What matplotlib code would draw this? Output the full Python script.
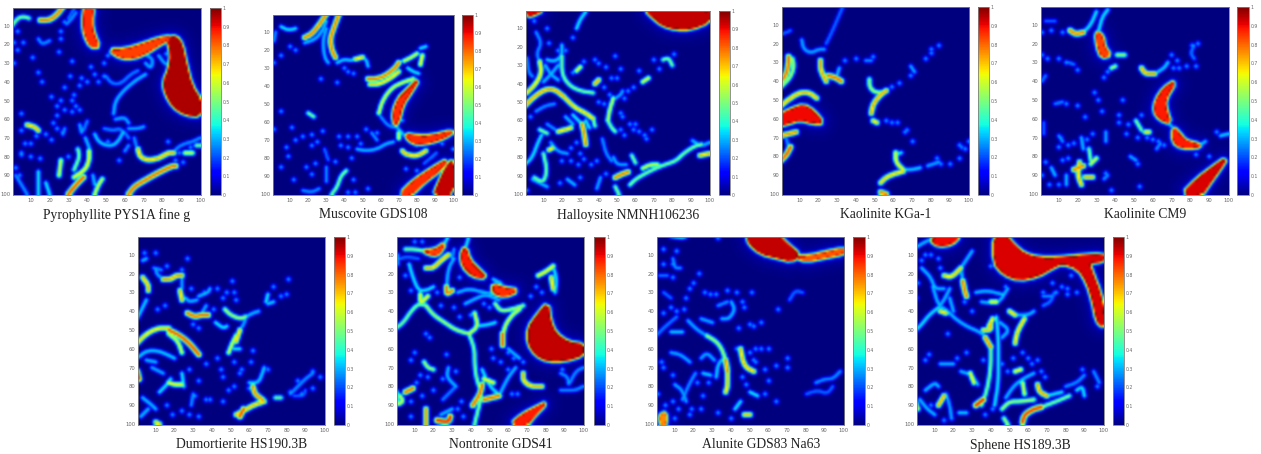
import numpy as np
import matplotlib
matplotlib.use("Agg")
import matplotlib.pyplot as plt
from matplotlib.path import Path

W, H = 1261, 454
TITLES = ["Pyrophyllite PYS1A fine g", "Muscovite GDS108", "Halloysite NMNH106236", "Kaolinite KGa-1", "Kaolinite CM9",
          "Dumortierite HS190.3B", "Nontronite GDS41", "Alunite GDS83 Na63", "Sphene HS189.3B"]

# Each sample: saturated regions, ridges (peak value, points in cell coordinates), isolated spots.
PYRO_FILLS = [(.92, [(83,17),(87,16),(90,20),(92,30),(95,42),(100,50),(100,58),(92,57),(86,53),(82,46),(81,40),(84,33),(85,25)]),
              (.8, [(52,23),(60,23),(70,20),(78,17),(85,16),(78,20),(72,24),(65,27),(58,27)]),
              (.82, [(39,0),(43,0),(42,8),(43,14),(46,21),(42,21),(39,15),(38,8)])]
PYRO_LINES = [(.8,[(15,7),(20,7),(24,4),(27,0)]),(.5,[(0,10),(3,6),(6,5),(9,6)]),(.35,[(29,9),(32,6),(34,3)]),
 (.35,[(14,17),(16,20),(20,18)]),(.4,[(54,57),(55,50),(60,44),(66,39),(71,36)]),(.33,[(50,37),(53,41),(58,41),(63,36),(67,34)]),
 (.38,[(71,30),(74,33),(75,28),(72,26)]),(.38,[(78,26),(81,30),(83,31)]),(.72,[(67,76),(68,80),(72,82),(78,81),(83,78),(86,78)]),
 (.82,[(62,100),(65,96),(70,93),(77,89),(85,85),(87,85)]),(.85,[(30,100),(34,95),(38,91)]),(.65,[(33,91),(39,87),(41,82),(41,77)]),
 (.4,[(39,70),(41,75)]),(.5,[(33,87),(36,80),(35,76)]),(.6,[(25,90),(26,82)]),(.45,[(14,88),(14,100)]),(.45,[(18,94),(20,100)]),
 (.6,[(44,100),(46,95),(48,92)]),(.4,[(43,90),(44,95)]),(.72,[(8,63),(12,64),(14,66)]),(.42,[(44,68),(46,72),(50,74),(54,74),(57,71),(59,67)]),
 (.33,[(49,65),(54,66),(57,65),(60,67),(62,70)]),(.38,[(55,60),(60,59),(62,62)]),(.38,[(62,65),(67,65),(70,64)]),
 (.35,[(85,79),(88,75),(92,73),(96,72),(100,70)]),(.6,[(92,78),(96,78)]),(.5,[(98,74),(100,74)]),(.38,[(36,63),(37,67)]),
 (.33,[(40,61),(38,66)]),(.35,[(2,90),(5,95),(8,100)]),(.35,[(28,65),(27,68)]),(.35,[(62,74),(60,77)]),(.35,[(65,70),(66,74)]),(.3,[(30,6),(33,1)])]
PYRO_DOTS = [(3,13),(1,19),(6,19),(3,23),(1,30),(11,27),(14,35),(16,40),(5,57),(21,48),(24,53),(26,50),(28,43),(31,37),(32,29),(25,24),(26,17),(26,13),(28,8),(42,32),(44,36),(37,38),(40,40),(36,42),(46,40),(33,47),(32,50),(28,55),(32,56),(36,55),(24,58),(34,53),(22,62),(51,26),(49,30),(49,37),(5,66),(7,73),(10,73),(13,69),(18,68),(21,71),(24,65),(10,80),(5,79),(15,81),(2,86),(4,90),(5,78),(51,72),(57,82),(89,78),(91,83),(95,75),(82,25),(25,87),(30,80),(27,67),(83,72),(87,82)]
MUSC_FILLS = [(.9,[(100,81),(100,100),(90,100),(92,95),(96,86)]),(.82,[(71,100),(78,93),(90,85),(97,81),(92,87),(84,93),(77,100)]),
 (.82,[(81,36),(75,42),(70,47),(67,55),(68,62),(70,58),(72,50),(76,44)]),(.82,[(74,67),(80,68),(88,68),(100,65),(96,68),(88,71),(80,72),(76,70)])]
MUSC_LINES = [(.8,[(18,13),(22,11),(26,6),(30,0)]),(.4,[(18,16),(24,14),(28,9),(30,4)]),(.8,[(37,0),(34,8),(32,14),(33,20),(35,24)]),
 (.4,[(30,8),(28,15),(29,24),(31,27)]),(.42,[(36,27),(40,25),(44,26),(49,24),(52,25),(53,29)]),(.7,[(46,25),(50,24)]),
 (.8,[(53,36),(58,36),(63,34),(68,30),(70,27)]),(.68,[(54,39),(59,39),(65,36),(70,32)]),(.6,[(73,26),(77,24),(80,22)]),(.65,[(82,28),(83,23)]),
 (.45,[(82,19),(85,18)]),(.45,[(75,30),(78,32),(81,33)]),(.6,[(59,55),(61,48),(66,41),(72,38),(78,36)]),(.35,[(60,57),(64,62),(68,63)]),
 (.4,[(68,62),(72,66),(75,70),(80,73)]),(.72,[(72,76),(74,78),(80,79),(85,76)]),(.6,[(70,66),(70,69)]),(.45,[(5,7),(9,9),(13,8)]),(.35,[(1,15),(2,10)]),
 (.5,[(20,55),(23,57)]),(.4,[(47,75),(52,76),(58,75),(63,72),(67,71)]),(.35,[(55,66),(58,70)]),(.5,[(33,100),(36,96),(38,90),(41,87)]),
 (.35,[(30,85),(30,93)]),(.35,[(17,98),(22,99),(26,97)]),(.3,[(88,80),(92,76),(84,83)]),(.3,[(29,75),(31,81)])]
MUSC_DOTS = [(5,23),(1,27),(10,18),(13,20),(27,36),(36,38),(40,30),(42,32),(45,33),(5,54),(11,63),(1,64),(22,67),(28,65),(25,71),(22,73),(13,70),(17,68),(8,74),(9,79),(37,68),(42,68),(38,73),(42,74),(47,68),(49,72),(52,64),(58,66),(44,80),(35,82),(19,85),(24,83),(5,85),(12,92),(22,89),(45,92),(53,97),(42,99),(46,99),(74,86),(80,87),(94,72),(100,75),(72,59)]
HALL_FILLS = [(.9,[(66,0),(100,0),(100,6),(90,10),(82,10),(75,8),(70,4)]),(.88,[(1,0),(9,0),(5,2),(2,3)])]
HALL_LINES = [(.45,[(28,10),(30,5),(33,1)]),(.35,[(6,12),(9,18),(6,24),(9,30)]),(.68,[(8,28),(9,34),(6,40),(1,45)]),(.42,[(12,27),(16,28),(20,25),(20,19)]),
 (.5,[(20,25),(20,35),(24,41),(30,44),(37,45)]),(.4,[(11,30),(14,35),(18,38)]),(.4,[(18,30),(14,35),(10,39)]),(.75,[(0,52),(5,47),(11,43),(16,43),(21,47)]),
 (.7,[(21,47),(27,53),(33,56),(37,59)]),(.5,[(37,59),(38,63)]),(.35,[(6,55),(11,52),(16,51)]),(.78,[(31,62),(32,66),(33,73)]),(.45,[(26,57),(31,62)]),
 (.45,[(33,60),(35,64)]),(.75,[(38,40),(40,38)]),(.62,[(30,31),(28,33)]),(.5,[(8,65),(12,67)]),(.7,[(18,66),(22,65),(25,64)]),(.35,[(12,62),(18,66)]),
 (.45,[(0,84),(4,80),(7,72),(9,68)]),(.5,[(10,78),(12,87),(10,94),(5,91)]),(.7,[(13,76),(15,75)]),(.38,[(14,72),(18,77),(23,78)]),
 (.58,[(45,60),(46,54),(48,48)]),(.5,[(45,60),(47,64),(49,66)]),(.38,[(49,48),(52,46),(53,44)]),(.8,[(49,91),(53,89),(56,88)]),(.5,[(57,95),(60,92),(65,89),(71,86),(76,84),(82,82),(86,78),(92,74),(96,73)]),
 (.6,[(64,86),(68,84),(72,84)]),(.72,[(95,79),(100,78)]),(.4,[(91,71),(96,74),(100,72)]),(.5,[(58,79),(60,83)]),(.38,[(48,80),(50,84),(55,84)]),
 (.5,[(49,96),(51,100)]),(.5,[(75,27),(78,26),(80,30)]),(.62,[(64,39),(67,37)]),(.38,[(39,97),(41,91)]),(.4,[(23,92),(27,95)]),(.35,[(42,70),(44,78),(47,82)]),
 (.4,[(22,58),(26,62)]),(.4,[(4,92),(8,94),(12,96)]),(.35,[(1,26),(2,34),(4,36)])]
HALL_DOTS = [(5,6),(12,10),(13,18),(26,15),(18,22),(22,22),(26,34),(32,28),(38,27),(40,29),(44,31),(49,25),(47,37),(50,37),(52,32),(43,42),(59,42),(56,44),(54,48),(62,33),(70,27),(73,32),(46,46),(40,50),(43,51),(52,56),(53,58),(57,62),(60,62),(52,65),(54,68),(59,65),(62,66),(65,68),(69,65),(66,70),(28,72),(30,78),(32,81),(29,84),(25,82),(20,82),(36,84),(39,82),(44,89),(81,24),(25,75),(3,58),(19,94),(30,91),(1,98),(91,71)]
KGA_FILLS = [(.86,[(0,58),(6,55),(12,53),(17,56),(22,62),(17,62),(10,60),(4,62),(0,63)])]
KGA_LINES = [(.82,[(0,40),(3,36),(4,30),(4,27)]),(.55,[(0,43),(5,38),(7,32),(6,28)]),(.72,[(0,53),(5,49),(10,46),(15,46),(19,49)]),(.78,[(0,69),(4,68),(8,67)]),
 (.85,[(0,82),(3,79),(5,75)]),(.35,[(3,71),(4,75)]),(.3,[(0,15),(3,14),(5,13)]),(.38,[(11,18),(12,23),(16,25),(20,23),(23,23)]),(.3,[(24,20),(27,14),(30,7),(33,0)]),
 (.75,[(21,29),(21,34),(24,40)]),(.82,[(25,37),(29,38),(32,40)]),(.4,[(30,36),(31,33)]),(.55,[(47,39),(47,43),(50,46),(55,46)]),(.75,[(48,57),(49,52),(53,47),(56,45)]),
 (.7,[(49,61),(51,62)]),(.65,[(61,78),(61,83),(65,87)]),(.45,[(61,79),(64,78)]),(.7,[(53,94),(56,91),(61,89),(65,88)]),(.42,[(66,87),(70,87),(74,86)]),(.8,[(53,99),(56,100)]),
 (.38,[(78,85),(81,84),(84,83)]),(.38,[(69,32),(71,35)]),(.35,[(45,29),(48,29)])]
KGA_DOTS = [(34,29),(40,28),(49,27),(59,43),(63,41),(69,37),(77,28),(80,23),(84,21),(56,61),(59,62),(62,62),(66,67),(70,72),(83,81),(85,84),(90,84),(95,81),(96,75),(98,76),(100,72),(67,66),(80,25),(95,74)]
CM9_FILLS = [(.88,[(76,100),(84,92),(92,86),(99,81),(95,87),(90,94),(86,100)]),(.84,[(72,40),(66,44),(62,50),(61,56),(64,60),(69,62),(67,56),(66,50)]),
 (.84,[(71,65),(74,68),(77,72),(85,74),(83,75),(75,75),(71,72)]),(.8,[(30,14),(31,22),(33,27),(37,26),(34,22),(33,16)])]
CM9_LINES = [(.8,[(16,13),(19,15),(23,14)]),(.45,[(23,14),(27,10),(30,3)]),(.45,[(31,14),(33,6),(36,2)]),(.75,[(54,33),(56,36),(61,36)]),(.42,[(61,36),(66,33),(68,30)]),
 (.55,[(41,26),(45,26)]),(.55,[(38,33),(40,32)]),(.4,[(68,62),(72,66)]),(.42,[(96,69),(100,68)]),(.4,[(85,74),(88,72)]),(.72,[(21,83),(20,90),(22,95)]),(.8,[(18,87),(23,85)]),
 (.72,[(24,91),(28,91)]),(.6,[(27,84),(30,81)]),(.5,[(26,76),(27,82)]),(.4,[(22,70),(23,76)]),(.35,[(10,69),(12,72)]),(.4,[(14,90),(14,95)]),(.4,[(6,86),(8,90)]),
 (.5,[(51,61),(54,66)]),(.68,[(56,67),(58,67)]),(.35,[(34,92),(36,90)]),(.38,[(48,80),(51,82)]),(.35,[(62,76),(64,73)]),(.32,[(82,21),(80,25),(82,28)]),(.33,[(8,52),(12,51)]),
 (.32,[(1,40),(3,37)]),(.32,[(18,31),(15,30)]),(.3,[(3,8),(8,8)]),(.38,[(35,67),(35,72)]),(.3,[(2,62),(2,68)])]
CM9_DOTS = [(1,14),(6,13),(12,14),(4,28),(10,28),(1,26),(14,30),(20,34),(36,35),(34,38),(29,46),(31,50),(44,50),(42,58),(33,56),(24,59),(20,53),(14,52),(42,62),(28,68),(46,68),(47,63),(52,70),(60,71),(63,72),(66,74),(73,29),(70,26),(71,33),(74,33),(78,32),(83,32),(81,21),(84,20),(57,70),(10,75),(11,70),(15,74),(18,73),(25,71),(15,81),(12,82),(3,83),(5,95),(10,95),(1,90),(38,98),(53,96),(52,84),(54,58),(90,80),(83,79),(94,67),(35,89)]
DUMO_FILLS = []
DUMO_LINES = [(.72,[(3,22),(6,26),(6,29)]),(.38,[(10,18),(11,21),(15,23)]),(.75,[(14,23),(18,23),(21,21),(24,21)]),(.72,[(23,29),(24,34)]),(.38,[(24,21),(24,28)]),
 (.82,[(27,41),(31,43),(34,42),(38,42)]),(.4,[(26,33),(28,35),(32,34)]),(.4,[(33,32),(38,30),(39,28)]),(.38,[(34,42),(37,37)]),(.68,[(0,57),(5,52),(11,49),(17,49)]),(.85,[(17,50),(23,53),(28,57),(33,63)]),
 (.6,[(17,52),(22,56),(24,62)]),(.42,[(0,65),(5,61),(11,61),(16,63),(20,65)]),(.4,[(5,66),(10,67)]),(.9,[(0,72),(1,76)]),(.42,[(0,44),(3,38),(5,34)]),(.55,[(47,39),(50,42),(55,44),(58,43)]),
 (.4,[(58,43),(62,41),(65,40)]),(.7,[(53,56),(55,50)]),(.6,[(49,62),(51,57),(53,53)]),(.38,[(55,50),(57,47),(58,44)]),(.78,[(62,80),(63,84),(67,87)]),
 (.72,[(53,95),(57,93),(62,90),(68,88)]),(.85,[(55,96),(57,92)]),(.45,[(42,46),(46,49),(48,48)]),(.42,[(60,78),(65,78),(67,73),(68,70)]),(.45,[(52,60),(55,60)]),
 (.5,[(74,86),(77,86)]),(.35,[(82,84),(86,80),(90,76),(94,73)]),(.3,[(84,85),(89,85),(90,82)]),(.45,[(69,35),(70,31)]),(.42,[(70,36),(73,35)]),(.65,[(17,78),(20,79),(24,79)]),
 (.45,[(12,83),(16,79),(18,76)]),(.45,[(24,73),(25,80)]),(.4,[(3,86),(8,90),(10,92)]),(.4,[(2,96),(6,92)]),(.7,[(10,99),(12,100)]),(.38,[(8,70),(14,73)]),
 (.35,[(30,84),(29,90)]),(.4,[(3,13),(5,12)]),(.35,[(9,17),(13,18)])]
DUMO_DOTS = [(4,9),(10,9),(16,16),(27,12),(24,18),(15,37),(11,39),(29,28),(36,30),(43,28),(46,33),(41,39),(51,24),(48,30),(52,30),(53,34),(30,47),(33,49),(62,61),(45,71),(37,68),(43,65),(52,67),(56,71),(55,73),(61,67),(46,75),(52,80),(49,82),(60,81),(70,71),(80,31),(77,32),(81,23),(73,27),(94,72),(94,81),(98,75),(86,77),(16,90),(19,95),(28,95),(33,96),(37,87),(39,87),(24,93),(46,88),(28,71),(33,77),(31,85),(82,83),(88,84)]
NONT_FILLS = [(.9,[(81,36),(76,42),(71,49),(71,57),(75,63),(81,66),(90,66),(100,63),(100,58),(92,57),(85,52),(82,45)]),(.84,[(35,10),(36,16),(41,21),(48,22),(44,18),(39,13),(37,6)]),
 (.82,[(52,26),(52,30),(58,32),(65,29),(58,28)]),(.84,[(62,100),(68,95),(76,91),(80,89),(74,95),(70,100)]),(.8,[(15,8),(20,10),(23,9),(26,4),(22,7),(18,8)])]
NONT_LINES = [(.45,[(26,4),(28,0)]),(.45,[(39,0),(37,7)]),(.5,[(5,7),(10,7),(15,8)]),(.3,[(2,12),(6,11),(12,12)]),(.72,[(16,17),(20,17),(24,13),(28,10)]),(.8,[(27,27),(27,31),(30,29)]),(.4,[(27,27),(28,17),(31,12)]),
 (.45,[(7,15),(9,22),(12,29),(16,29),(20,27)]),(.65,[(13,31),(13,36),(17,32)]),(.5,[(16,37),(12,36),(8,40),(4,46),(0,49)]),(.55,[(16,37),(20,42),(26,46),(32,50),(39,52)]),(.6,[(39,52),(44,48),(42,41)]),
 (.45,[(43,48),(50,47),(53,46)]),(.5,[(39,52),(42,60),(42,68),(43,76),(46,84),(44,92),(42,100)]),(.82,[(41,90),(45,84),(46,79)]),(.82,[(47,87),(51,86),(55,85)]),(.45,[(46,71),(50,80),(56,85)]),(.65,[(47,76),(52,78)]),
 (.4,[(55,85),(60,75),(64,70)]),(.72,[(68,73),(68,77),(72,80),(78,80)]),(.55,[(53,36),(56,40),(62,39),(68,37)]),(.6,[(57,55),(58,48),(62,42),(66,39)]),(.82,[(57,52),(57,58)]),(.4,[(60,60),(66,65)]),
 (.65,[(76,21),(80,19),(84,16)]),(.45,[(84,16),(86,23),(85,30)]),(.7,[(83,22),(84,28)]),(.6,[(0,83),(0,90),(4,88),(2,85)]),(.82,[(5,83),(9,81)]),(.75,[(16,92),(16,100)]),(.9,[(22,98),(28,99),(29,96)]),(.4,[(24,95),(30,92)]),
 (.55,[(15,67),(17,70),(20,71)]),(.4,[(28,70),(27,75),(32,80)]),(.33,[(25,87),(28,84),(32,80)]),(.4,[(33,30),(39,28),(47,30),(53,31)]),(.4,[(37,36),(43,33),(48,31),(55,34)]),(.42,[(52,23),(56,25)]),
 (.35,[(88,73),(92,75),(92,80),(96,72),(100,70)]),(.35,[(88,82),(92,82),(96,82),(100,80)]),(.35,[(1,10),(1,15)]),(.35,[(31,7),(30,12)])]
NONT_DOTS = [(10,3),(14,3),(5,21),(8,29),(22,30),(34,22),(24,37),(31,38),(34,43),(40,42),(47,36),(50,38),(16,52),(18,54),(10,62),(8,66),(27,63),(17,75),(13,74),(11,78),(25,76),(20,82),(14,85),(8,88),(8,96),(33,92),(36,96),(32,72),(51,60),(52,65),(56,67),(60,71),(63,65),(68,67),(65,84),(62,84),(78,30),(75,27),(72,32),(89,71),(60,62),(35,88)]
ALUN_FILLS = [(.9,[(49,0),(65,0),(70,5),(76,10),(72,13),(64,11),(56,9),(50,4)]),(.78,[(74,11),(82,11),(90,9),(100,7),(100,9),(90,11),(80,13)]),(.72,[(2,96),(5,94),(5,100),(3,100)])]
ALUN_LINES = [(.45,[(8,0),(14,1),(16,0)]),(.32,[(0,53),(5,48),(11,43)]),(.38,[(17,45),(22,50),(27,53)]),(.55,[(27,53),(32,56),(35,60),(37,66)]),(.78,[(37,66),(38,72)]),(.7,[(38,72),(38,80),(37,83)]),(.42,[(32,75),(33,68),(36,65)]),
 (.72,[(45,60),(46,66),(48,70),(52,72)]),(.38,[(24,44),(30,46)]),(.4,[(35,44),(39,44),(42,39),(40,35)]),(.35,[(33,37),(38,35)]),(.42,[(8,51),(14,51)]),(.38,[(8,62),(13,63),(18,67)]),(.38,[(10,79),(14,82),(16,88)]),
 (.35,[(14,87),(18,78),(21,73)]),(.38,[(24,65),(27,62),(31,66)]),(.42,[(25,73),(29,74)]),(.45,[(50,83),(54,85)]),(.45,[(42,92),(45,88)]),(.7,[(47,95),(50,95)]),(.35,[(85,78),(90,76),(94,76),(98,72)]),(.3,[(80,84),(86,82),(91,84),(94,80)]),
 (.3,[(71,34),(74,29),(78,30)]),(.32,[(2,21),(6,21)]),(.35,[(9,12),(10,17),(13,17)]),(.3,[(4,30),(8,33)])]
ALUN_DOTS = [(4,7),(11,8),(33,1),(4,15),(9,15),(9,22),(23,20),(20,25),(18,28),(16,33),(26,30),(29,31),(32,31),(38,29),(43,30),(46,35),(51,30),(47,38),(15,39),(8,38),(4,41),(11,40),(44,49),(50,47),(52,48),(56,46),(65,39),(56,60),(60,60),(43,60),(50,62),(52,66),(53,60),(46,75),(48,79),(53,67),(58,71),(64,69),(70,70),(70,65),(60,77),(58,84),(64,88),(3,67),(9,74),(1,84),(5,90),(9,88),(12,92),(19,92),(24,92),(25,85),(33,94),(40,97),(22,78),(28,78),(4,70),(10,97),(18,95)]
SPHE_FILLS = [(.88,[(42,0),(48,0),(52,5),(58,10),(66,12),(76,12),(86,11),(100,10),(100,13),(92,14),(94,20),(98,30),(100,40),(100,48),(97,45),(95,35),(92,25),(87,17),(78,14),(72,17),(65,21),(55,23),(47,20),(42,14)]),
 (.86,[(8,2),(13,0),(23,0),(19,4),(12,5)])]
SPHE_LINES = [(.4,[(0,6),(5,3),(10,1)]),(.4,[(3,17),(8,22),(10,28),(15,28)]),(.4,[(9,27),(12,37),(16,39),(21,44),(27,48),(34,51),(38,54)]),(.4,[(18,28),(15,34),(12,38)]),(.45,[(12,38),(7,42),(3,47),(0,50)]),
 (.7,[(15,21),(19,22),(24,17)]),(.4,[(24,17),(28,11),(30,8)]),(.8,[(25,24),(26,29),(27,32)]),(.4,[(24,17),(25,24)]),(.7,[(13,40),(16,41)]),(.4,[(18,33),(20,40)]),(.78,[(37,54),(40,59)]),(.5,[(40,59),(40,70),(38,82),(35,90)]),
 (.9,[(32,90),(36,87)]),(.45,[(43,43),(44,55),(44,66),(44,78),(42,90)]),(.7,[(36,50),(40,50),(40,47)]),(.7,[(39,48),(41,44)]),(.65,[(40,35),(43,35)]),(.4,[(32,30),(38,29),(46,31)]),(.4,[(35,35),(44,36),(49,28)]),(.7,[(50,40),(53,42)]),
 (.4,[(52,42),(60,42),(63,40)]),(.7,[(53,57),(54,51),(58,44)]),(.4,[(45,46),(50,50),(46,54)]),(.75,[(65,79),(66,83),(70,85)]),(.45,[(70,85),(78,83)]),(.88,[(57,99),(58,95),(63,92),(67,91)]),(.5,[(67,91),(75,88),(82,85)]),
 (.55,[(46,92),(50,88),(56,88),(63,87)]),(.4,[(48,86),(52,80),(57,76),(63,73)]),(.65,[(53,72),(56,71)]),(.6,[(57,78),(58,84)]),(.45,[(86,82),(89,80),(90,85)]),(.35,[(80,80),(86,78),(90,74)]),(.35,[(95,72),(98,78)]),
 (.75,[(12,90),(15,85)]),(.4,[(2,87),(6,92),(10,95)]),(.4,[(5,82),(10,78),(12,80)]),(.38,[(16,84),(18,90),(19,97)]),(.6,[(0,89),(1,92)]),(.4,[(24,72),(30,74),(33,79)]),(.65,[(29,73),(31,78)]),(.4,[(13,68),(20,68)]),(.42,[(23,94),(27,94)]),
 (.55,[(47,97),(49,100)]),(.35,[(68,32),(72,32)]),(.32,[(68,37),(72,35),(74,30)])]
SPHE_DOTS = [(5,10),(8,10),(12,12),(13,17),(3,13),(1,25),(0,33),(40,16),(48,27),(26,35),(30,40),(17,52),(7,63),(5,66),(57,62),(60,65),(62,68),(65,66),(67,72),(69,75),(73,25),(78,27),(81,28),(81,31),(86,30),(75,30),(27,62),(22,65),(36,66),(34,88),(8,90),(15,98),(19,97),(37,95),(41,92),(52,22),(83,21),(89,71),(97,80),(52,65),(49,72),(46,68),(68,30)]

SAMPLES = [(PYRO_FILLS,PYRO_LINES,PYRO_DOTS),(MUSC_FILLS,MUSC_LINES,MUSC_DOTS),(HALL_FILLS,HALL_LINES,HALL_DOTS),(KGA_FILLS,KGA_LINES,KGA_DOTS),(CM9_FILLS,CM9_LINES,CM9_DOTS),
           (DUMO_FILLS,DUMO_LINES,DUMO_DOTS),(NONT_FILLS,NONT_LINES,NONT_DOTS),(ALUN_FILLS,ALUN_LINES,ALUN_DOTS),(SPHE_FILLS,SPHE_LINES,SPHE_DOTS)]
DOT_VALUE = 0.3

# layout in pixels: image left, right, top, bottom, colourbar left, right
BOXES = [(13,201,8,195,210,221),(273,454,15,195,462,473),(526,710,11,195,719,730),(782,969,7,195,978,989),(1041,1229,7,195,1237,1249),
         (138,325,237,425,334,345),(397,584,237,425,594,605),(657,844,237,425,853,865),(917,1104,237,425,1113,1124)]

cx, cy = np.meshgrid(np.arange(1, 101.0), np.arange(1, 101.0))

def smooth(pts, closed=False, rounds=2):
    p = np.asarray(pts, float)
    for _ in range(rounds):
        if closed:
            q = np.roll(p, -1, axis=0)
            p = np.vstack([np.c_[0.75 * p + 0.25 * q], np.c_[0.25 * p + 0.75 * q]])[
                np.argsort(np.r_[np.arange(len(p)) * 2, np.arange(len(p)) * 2 + 1])]
        elif len(p) > 2:
            a, b = p[:-1], p[1:]
            mid = np.empty((2 * len(a), 2))
            mid[0::2] = 0.75 * a + 0.25 * b
            mid[1::2] = 0.25 * a + 0.75 * b
            p = np.vstack([p[:1], mid, p[-1:]])
    return p

def dist(p):
    p = np.asarray(p, float)
    if len(p) == 1:
        return np.hypot(cx - p[0, 0], cy - p[0, 1])
    best = np.full(cx.shape, 1e9)
    for a, b in zip(p[:-1], p[1:]):
        ab = b - a
        t = np.clip(((cx - a[0]) * ab[0] + (cy - a[1]) * ab[1]) / (ab @ ab), 0, 1)
        best = np.minimum(best, np.hypot(cx - a[0] - t * ab[0], cy - a[1] - t * ab[1]))
    return best

def field(fills, lines, dots):
    z = np.zeros(cx.shape)
    for v, pts in fills:
        p = smooth(pts, closed=True, rounds=1)
        d = dist(np.vstack([p, p[:1]]))
        inside = Path(p).contains_points(np.c_[cx.ravel(), cy.ravel()]).reshape(cx.shape)
        d[inside] = 0
        z = np.maximum(z, (v + 0.04) * np.exp(-d**2 / (2 * 1.0**2)) + 0.1 * np.exp(-d / 3) * (~inside))
    for v, pts in lines:
        d = dist(smooth(pts))
        peak = v * 0.82 if v < 0.5 else v
        z = np.maximum(z, peak * np.exp(-d**2 / (2 * (0.7 + 0.5 * v)**2)))
    for pt in dots:
        d = dist([pt])
        z = np.maximum(z, DOT_VALUE * np.exp(-d**2 / (2 * 1.0**2)))
    return np.clip(z, 0, 1)

plt.rcParams["font.family"] = ["Liberation Serif", "DejaVu Serif"]
fig = plt.figure(figsize=(W / 100, H / 100), dpi=100)
GREY = "#808080"
LABEL = "#666666"

def rect(l, r, t, b):
    return [l / W, 1 - b / H, (r - l) / W, (b - t) / H]

for title, sample, (l, r, t, b, cl, cr) in zip(TITLES, SAMPLES, BOXES):
    ax = fig.add_axes(rect(l, r, t, b))
    im = ax.imshow(field(*sample), cmap="jet", vmin=0, vmax=1, aspect="auto", extent=(0.5, 100.5, 100.5, 0.5), interpolation="bicubic")
    ax.set_xticks(range(10, 101, 10))
    ax.set_yticks(range(10, 101, 10))
    ax.tick_params(length=0, labelsize=3.8, labelcolor=LABEL, pad=2)
    for lab in ax.get_xticklabels() + ax.get_yticklabels():
        lab.set_family("DejaVu Sans")
    for s in ax.spines.values():
        s.set_color(GREY); s.set_linewidth(0.6)
    cax = fig.add_axes(rect(cl, cr, t, b))
    cb = fig.colorbar(im, cax=cax)
    cb.set_ticks(np.arange(0, 1.01, 0.1))
    cb.set_ticklabels(["0", "0.1", "0.2", "0.3", "0.4", "0.5", "0.6", "0.7", "0.8", "0.9", "1"])
    cax.tick_params(length=0, labelsize=3.3, labelcolor=LABEL, pad=1)
    for lab in cax.get_yticklabels():
        lab.set_family("DejaVu Sans")
    cb.outline.set_edgecolor(GREY); cb.outline.set_linewidth(0.6)
    fig.text((l + cr) / 2 / W, 1 - (b + 20) / H, title, ha="center", va="center", fontsize=9.8, color="#222222")

fig.savefig("out.png", dpi=100)
